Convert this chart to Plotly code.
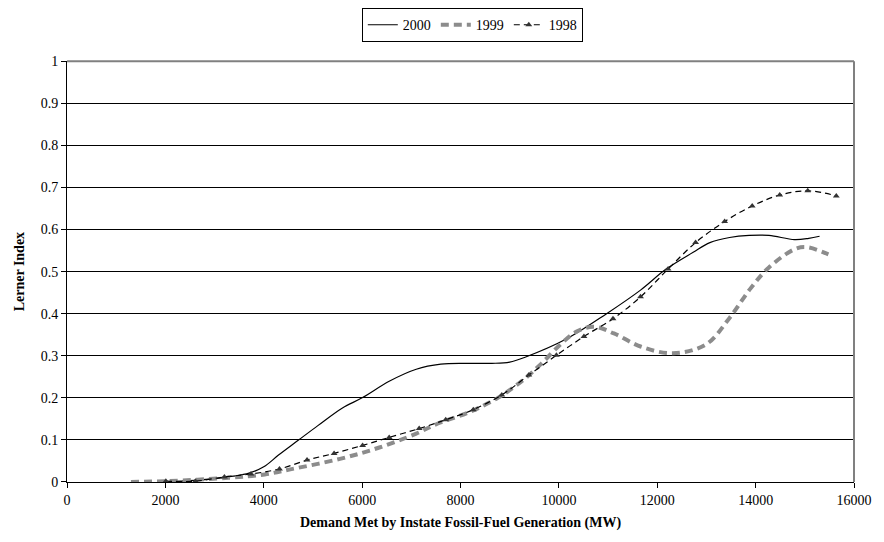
import plotly.graph_objects as go

# ---- data ----
x_2000 = [2000, 3000, 3700, 4000, 4300, 4700, 5100, 5600, 6000, 6560, 7100, 7600,
          8100, 8640, 9000, 9300, 10170, 10970, 11660, 12180, 12730, 13070, 13470,
          13870, 14270, 14790, 15080, 15300]
y_2000 = [0.0, 0.008, 0.021, 0.036, 0.064, 0.099, 0.134, 0.176, 0.200, 0.240, 0.268, 0.280,
          0.282, 0.282, 0.285, 0.296, 0.341, 0.400, 0.456, 0.506, 0.546, 0.569, 0.581,
          0.586, 0.586, 0.576, 0.579, 0.584]

x_1999 = [1300, 2010, 3280, 4020, 4540, 5550, 6350, 7100, 7540, 8160, 8760, 9270, 9650,
          10050, 10370, 10710, 11120, 11660, 12320, 12990, 13470, 13890, 14270, 14790,
          15040, 15480]
y_1999 = [0.0, 0.002, 0.010, 0.018, 0.030, 0.055, 0.082, 0.115, 0.139, 0.165, 0.200, 0.242,
          0.282, 0.329, 0.358, 0.369, 0.353, 0.322, 0.306, 0.327, 0.390, 0.459, 0.510, 0.553,
          0.558, 0.541]

x_1998 = [2010, 2610, 3200, 3740, 4320, 4880, 5430, 6010, 6550, 7160, 7700, 8260, 8840,
          9390, 9950, 10510, 11100, 11660, 12220, 12780, 13370, 13930, 14490, 15060, 15640]
y_1998 = [0.002, 0.002, 0.012, 0.019, 0.031, 0.052, 0.068, 0.087, 0.106, 0.127, 0.148, 0.172,
          0.207, 0.254, 0.301, 0.346, 0.388, 0.440, 0.506, 0.569, 0.619, 0.656, 0.682, 0.692,
          0.680]

x_ticks = [0, 2000, 4000, 6000, 8000, 10000, 12000, 14000, 16000]
y_ticks = [0, 0.1, 0.2, 0.3, 0.4, 0.5, 0.6, 0.7, 0.8, 0.9, 1]
y_tick_labels = ["0", "0.1", "0.2", "0.3", "0.4", "0.5", "0.6", "0.7", "0.8", "0.9", "1"]

FONT = "Liberation Serif"

fig = go.Figure()
fig.add_trace(go.Scatter(
    x=x_2000, y=y_2000, name="2000", mode="lines",
    line=dict(color="black", width=1.2, shape="spline", smoothing=1.0),
))
fig.add_trace(go.Scatter(
    x=x_1999, y=y_1999, name="1999", mode="lines",
    line=dict(color="#8c8c8c", width=4, dash="8px,5px", shape="spline", smoothing=1.0),
))
fig.add_trace(go.Scatter(
    x=x_1998, y=y_1998, name="1998", mode="lines+markers",
    line=dict(color="black", width=1.2, dash="6px,4px", shape="spline", smoothing=1.0),
    marker=dict(symbol="triangle-up", size=6, color="#333333"),
))

fig.update_layout(
    width=884, height=542,
    margin=dict(l=67, r=21, t=57, b=60),
    paper_bgcolor="white", plot_bgcolor="white",
    font=dict(family=FONT, size=14, color="black"),
    showlegend=True,
    legend=dict(
        orientation="h", x=0.515, xanchor="center", yref="container", y=0.985, yanchor="top",
        bordercolor="black", borderwidth=1, bgcolor="white",
        font=dict(family=FONT, size=14), itemwidth=30, tracegroupgap=0,
    ),
    xaxis=dict(
        range=[0, 16000], tickvals=x_ticks, ticktext=[str(v) for v in x_ticks],
        showgrid=False, zeroline=False, showline=True, linecolor="black", linewidth=1,
        ticks="outside", ticklen=5, tickcolor="black",
        title=dict(text="<b>Demand Met by Instate Fossil-Fuel Generation (MW)</b>",
                   font=dict(family=FONT, size=14), standoff=10),
        tickfont=dict(family=FONT, size=14),
    ),
    yaxis=dict(
        range=[0, 1], tickvals=y_ticks, ticktext=y_tick_labels,
        showgrid=True, gridcolor="black", gridwidth=1, zeroline=False,
        showline=True, linecolor="black", linewidth=1,
        ticks="outside", ticklen=5, tickcolor="black",
        title=dict(text="<b>Lerner Index</b>", font=dict(family=FONT, size=14), standoff=12),
        tickfont=dict(family=FONT, size=14),
    ),
    shapes=[
        dict(type="line", xref="paper", yref="paper", x0=0, x1=1, y0=1, y1=1,
             line=dict(color="#808080", width=2), layer="above"),
        dict(type="line", xref="paper", yref="paper", x0=1, x1=1, y0=0, y1=1,
             line=dict(color="#808080", width=2), layer="above"),
    ],
)

fig.write_html("out.html")
